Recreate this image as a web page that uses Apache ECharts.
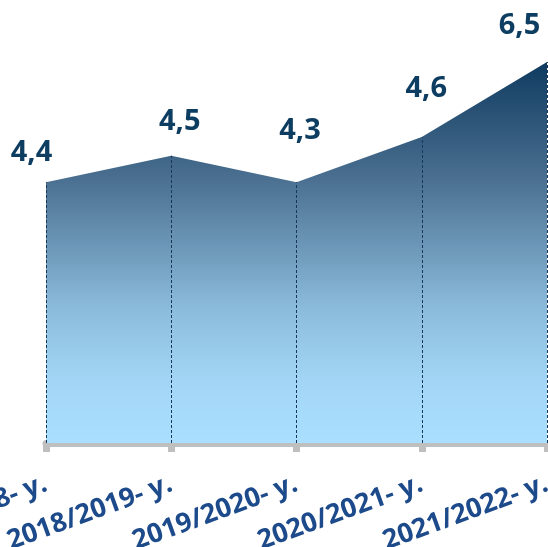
<!DOCTYPE html>
<html>
<head>
<meta charset="utf-8">
<script src="https://cdn.jsdelivr.net/npm/echarts@6/dist/echarts.min.js"></script>
<style>html,body{margin:0;padding:0;background:#fff}#c{width:548px;height:547px}</style>
</head>
<body>
<div id="c"></div>
<script>
const categories = ["2017/2018- у.", "2018/2019- у.", "2019/2020- у.", "2020/2021- у.", "2021/2022- у."];
const plottedValues = [4.45, 4.9, 4.45, 5.22, 6.5];
const valueLabels = ["4,4", "4,5", "4,3", "4,6", "6,5"];

const labelOffsets = [[-14, -29], [9, -34], [4, -51], [5, -48], [-27, -36]];

const chart = echarts.init(document.getElementById('c'), null, {renderer: 'canvas'});
const seriesData = plottedValues.map((v, i) => ({
  value: v,
  label: {
    show: true,
    position: labelOffsets[i],
    align: 'center',
    verticalAlign: 'middle',
    formatter: () => valueLabels[i]
  }
}));
const dropLines = plottedValues.map((v, i) => [
  {coord: [i, 0]},
  {coord: [i, v]}
]);

chart.setOption({
  animation: false,
  grid: {left: 46, right: 1, top: 62, bottom: 104, containLabel: false, outerBoundsMode: 'none'},
  xAxis: {
    type: 'category',
    data: categories,
    boundaryGap: false,
    axisLine: {show: true, lineStyle: {color: '#bfbfbf', width: 7}},
    axisTick: {show: true, length: 9, lineStyle: {color: '#bfbfbf', width: 7}},
    axisLabel: {
      interval: 0,
      rotate: 20,
      margin: 40,
      color: '#1c4a8a',
      fontFamily: 'Open Sans',
      fontWeight: 'bold',
      fontSize: 27,
      hideOverlap: false
    },
    splitLine: {show: false}
  },
  yAxis: {
    type: 'value',
    min: 0,
    max: 6.5,
    show: false
  },
  series: [{
    type: 'line',
    data: seriesData,
    symbol: 'circle',
    symbolSize: 1,
    showSymbol: true,
    itemStyle: {color: 'rgba(0,0,0,0)'},
    lineStyle: {width: 0},
    z: 1,
    labelLayout: {hideOverlap: false},
    label: {
      show: true,
      color: '#0e3d62',
      fontFamily: 'Open Sans',
      fontWeight: 'bold',
      fontSize: 29
    },
    areaStyle: {
      opacity: 1,
      color: new echarts.graphic.LinearGradient(0, 0, 0, 1, [
        {offset: 0, color: '#0f3b60'},
        {offset: 0.3, color: '#496e8f'},
        {offset: 0.65, color: '#8cbcdc'},
        {offset: 0.85, color: '#a4d7f7'},
        {offset: 1, color: '#aadfff'}
      ])
    },
    markLine: {
      silent: true,
      symbol: ['none', 'none'],
      label: {show: false},
      lineStyle: {color: '#17385a', width: 1, type: [3, 2]},
      data: dropLines
    }
  }]
});
</script>
</body>
</html>
